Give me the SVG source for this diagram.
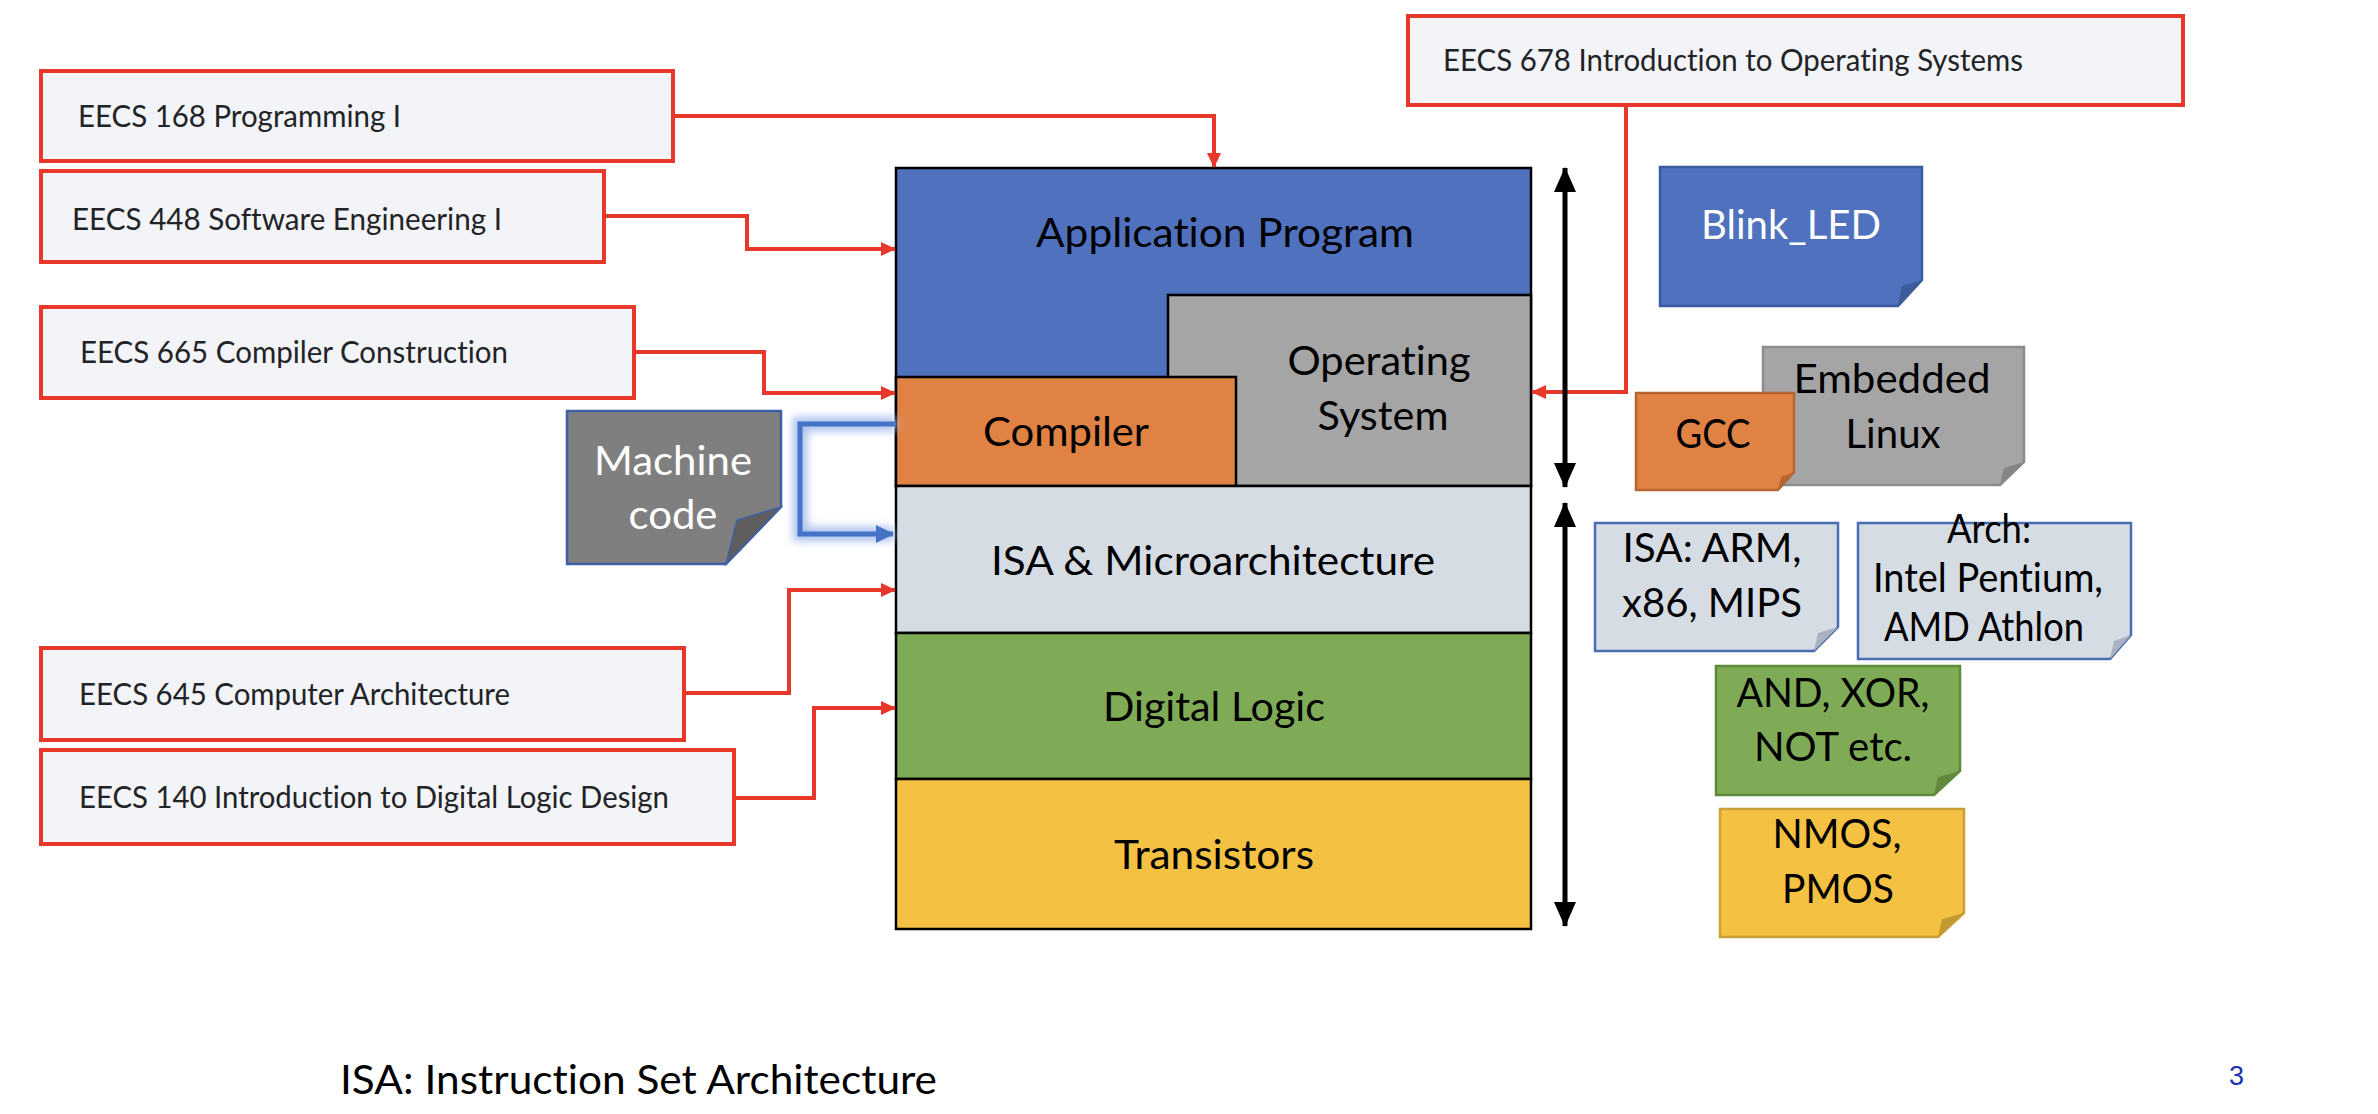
<svg xmlns="http://www.w3.org/2000/svg" width="2378" height="1114" viewBox="0 0 2378 1114">
<style>
text{font-variant-ligatures:none}
.course rect{fill:#f3f4f8;stroke:#e8382c;stroke-width:4}
.course text{font-family:Lato,"Liberation Sans",sans-serif;font-size:31px;fill:#222326}
.lbl{font-family:Lato,"Liberation Sans",sans-serif;font-size:41px;fill:#000;text-anchor:middle}
.layer{stroke:#000;stroke-width:2.5}
.red{fill:none;stroke:#e8382c;stroke-width:4}
.blk{stroke:#000;stroke-width:5}
</style>
<defs>
<marker id="ar" markerUnits="userSpaceOnUse" markerWidth="16" markerHeight="16" refX="14" refY="8" orient="auto"><path d="M0,1 L15,8 L0,15 Z" fill="#e8382c"/></marker>
<marker id="ab" markerUnits="userSpaceOnUse" markerWidth="20" markerHeight="20" refX="17" refY="10" orient="auto"><path d="M0,1 L18,10 L0,19 Z" fill="#4472c4"/></marker>
<marker id="ak" markerUnits="userSpaceOnUse" markerWidth="26" markerHeight="24" refX="24" refY="12" orient="auto-start-reverse"><path d="M0,1 L25,12 L0,23 Z" fill="#000"/></marker>
<filter id="glow" x="-20%" y="-20%" width="140%" height="140%"><feGaussianBlur stdDeviation="4"/></filter>
</defs>
<rect width="2378" height="1114" fill="#fff"/>

<g id="course168" class="course"><rect x="41" y="71" width="632" height="90"/><text x="78" y="127" textLength="323" lengthAdjust="spacingAndGlyphs">EECS 168 Programming I</text></g>
<g id="course448" class="course"><rect x="41" y="171" width="563" height="91"/><text x="72" y="230" textLength="430" lengthAdjust="spacingAndGlyphs">EECS 448 Software Engineering I</text></g>
<g id="course665" class="course"><rect x="41" y="307" width="593" height="91"/><text x="80" y="363" textLength="428" lengthAdjust="spacingAndGlyphs">EECS 665 Compiler Construction</text></g>
<g id="course645" class="course"><rect x="41" y="648" width="643" height="92"/><text x="79" y="705" textLength="431" lengthAdjust="spacingAndGlyphs">EECS 645 Computer Architecture</text></g>
<g id="course140" class="course"><rect x="41" y="750" width="693" height="94"/><text x="79" y="808" textLength="590" lengthAdjust="spacingAndGlyphs">EECS 140 Introduction to Digital Logic Design</text></g>
<g id="course678" class="course"><rect x="1408" y="16" width="775" height="89"/><text x="1443" y="71" textLength="580" lengthAdjust="spacingAndGlyphs">EECS 678 Introduction to Operating Systems</text></g>

<g id="app"><rect class="layer" x="896" y="168" width="635" height="318" fill="#4f71be"/><text class="lbl" x="1225" y="247" textLength="378" lengthAdjust="spacingAndGlyphs">Application Program</text></g>
<g id="os"><rect class="layer" x="1168" y="295" width="363" height="191" fill="#a5a5a5"/><text class="lbl" x="1379" y="375" textLength="183" lengthAdjust="spacingAndGlyphs">Operating</text><text class="lbl" x="1383" y="430" textLength="131" lengthAdjust="spacingAndGlyphs">System</text></g>
<g id="compiler"><rect class="layer" x="896" y="377" width="340" height="109" fill="#df8244"/><text class="lbl" x="1066" y="446" textLength="166" lengthAdjust="spacingAndGlyphs">Compiler</text></g>
<g id="isa"><rect class="layer" x="896" y="486" width="635" height="147" fill="#d6dce4"/><text class="lbl" x="1213" y="575" textLength="444" lengthAdjust="spacingAndGlyphs">ISA &amp; Microarchitecture</text></g>
<g id="logic"><rect class="layer" x="896" y="633" width="635" height="146" fill="#7fab56"/><text class="lbl" x="1214" y="721" textLength="222" lengthAdjust="spacingAndGlyphs">Digital Logic</text></g>
<g id="transistors"><rect class="layer" x="896" y="779" width="635" height="150" fill="#f4c142"/><text class="lbl" x="1214" y="869" textLength="200" lengthAdjust="spacingAndGlyphs">Transistors</text></g>

<g id="machinecode"><path d="M567,411 H781 V507 L726,564 H567 Z" fill="#7f7f7f" stroke="#3f5fa5" stroke-width="2.5"/><path d="M781,507 L726,564 L737,520 Z" fill="#5e5e5e" stroke="#3f5fa5" stroke-width="1.5"/><text class="lbl" x="673" y="475" style="fill:#fff" textLength="158" lengthAdjust="spacingAndGlyphs">Machine</text><text class="lbl" x="673" y="529" style="fill:#fff" textLength="89" lengthAdjust="spacingAndGlyphs">code</text></g>

<g id="blinkled"><path d="M1660,167 H1922 V280 L1898,306 H1660 Z" fill="#4f71be" stroke="#3b5ca0" stroke-width="2.5"/><path d="M1922,280 L1898,306 L1902,286 Z" fill="#3d5a9a"/><text class="lbl" x="1791" y="239" style="fill:#fff" textLength="180" lengthAdjust="spacingAndGlyphs">Blink_LED</text></g>
<g id="embeddedlinux"><path d="M1763,347 H2024 V462 L2000,485 H1763 Z" fill="#a5a5a5" stroke="#8c8c8c" stroke-width="2.5"/><path d="M2024,462 L2000,485 L2004,468 Z" fill="#858585"/><text class="lbl" x="1892" y="393" textLength="197" lengthAdjust="spacingAndGlyphs">Embedded</text><text class="lbl" x="1893" y="448" textLength="95" lengthAdjust="spacingAndGlyphs">Linux</text></g>
<g id="gcc"><path d="M1636,393 H1794 V472 L1778,490 H1636 Z" fill="#df8244" stroke="#b6652e" stroke-width="2.5"/><path d="M1794,472 L1778,490 L1781,477 Z" fill="#b8662f"/><text class="lbl" x="1713" y="448" textLength="75" lengthAdjust="spacingAndGlyphs">GCC</text></g>
<g id="isanote"><path d="M1595,523 H1838 V627 L1814,651 H1595 Z" fill="#d6dce4" stroke="#4a6cb3" stroke-width="2.5"/><path d="M1838,627 L1814,651 L1818,633 Z" fill="#aab2c0"/><text class="lbl" x="1712" y="562" textLength="179" lengthAdjust="spacingAndGlyphs">ISA: ARM,</text><text class="lbl" x="1712" y="617" textLength="180" lengthAdjust="spacingAndGlyphs">x86, MIPS</text></g>
<g id="archnote"><path d="M1858,523 H2131 V635 L2110,659 H1858 Z" fill="#d6dce4" stroke="#4a6cb3" stroke-width="2.5"/><path d="M2131,635 L2110,659 L2114,641 Z" fill="#aab2c0"/><text class="lbl" x="1989" y="543" textLength="84" lengthAdjust="spacingAndGlyphs">Arch:</text><text class="lbl" x="1988" y="592" textLength="230" lengthAdjust="spacingAndGlyphs">Intel Pentium,</text><text class="lbl" x="1984" y="641" textLength="200" lengthAdjust="spacingAndGlyphs">AMD Athlon</text></g>
<g id="gatesnote"><path d="M1716,666 H1960 V771 L1934,795 H1716 Z" fill="#7fab56" stroke="#5d8a3a" stroke-width="2.5"/><path d="M1960,771 L1934,795 L1938,777 Z" fill="#63893f"/><text class="lbl" x="1833" y="707" textLength="193" lengthAdjust="spacingAndGlyphs">AND, XOR,</text><text class="lbl" x="1833" y="761" textLength="158" lengthAdjust="spacingAndGlyphs">NOT etc.</text></g>
<g id="mosnote"><path d="M1720,809 H1964 V913 L1938,937 H1720 Z" fill="#f4c142" stroke="#c9a033" stroke-width="2.5"/><path d="M1964,913 L1938,937 L1942,919 Z" fill="#c39a30"/><text class="lbl" x="1837" y="848" textLength="129" lengthAdjust="spacingAndGlyphs">NMOS,</text><text class="lbl" x="1838" y="903" textLength="112" lengthAdjust="spacingAndGlyphs">PMOS</text></g>

<g id="connectors">
<path class="red" d="M673,116 H1214 V167" marker-end="url(#ar)"/>
<path class="red" d="M604,216 H747 V249 H895" marker-end="url(#ar)"/>
<path class="red" d="M634,352 H764 V393 H895" marker-end="url(#ar)"/>
<path class="red" d="M684,693 H789 V590 H895" marker-end="url(#ar)"/>
<path class="red" d="M734,798 H814 V708 H895" marker-end="url(#ar)"/>
<path class="red" d="M1626,105 V392 H1532" marker-end="url(#ar)"/>
<path d="M896,424 H800 V534 H893" fill="none" stroke="#a9c0ee" stroke-width="14" filter="url(#glow)"/>
<path d="M896,424 H800 V534 H893" fill="none" stroke="#4472c4" stroke-width="5" marker-end="url(#ab)"/>
<line class="blk" x1="1565" y1="168" x2="1565" y2="487" marker-start="url(#ak)" marker-end="url(#ak)"/>
<line class="blk" x1="1565" y1="503" x2="1565" y2="926" marker-start="url(#ak)" marker-end="url(#ak)"/>
</g>

<text x="340" y="1094" font-family="Lato, 'Liberation Sans', sans-serif" font-size="40" fill="#000" textLength="597" lengthAdjust="spacingAndGlyphs">ISA: Instruction Set Architecture</text>
<text x="2229" y="1085" font-family="'Liberation Sans', Arial, sans-serif" font-size="27" fill="#1a34b0">3</text>
</svg>
